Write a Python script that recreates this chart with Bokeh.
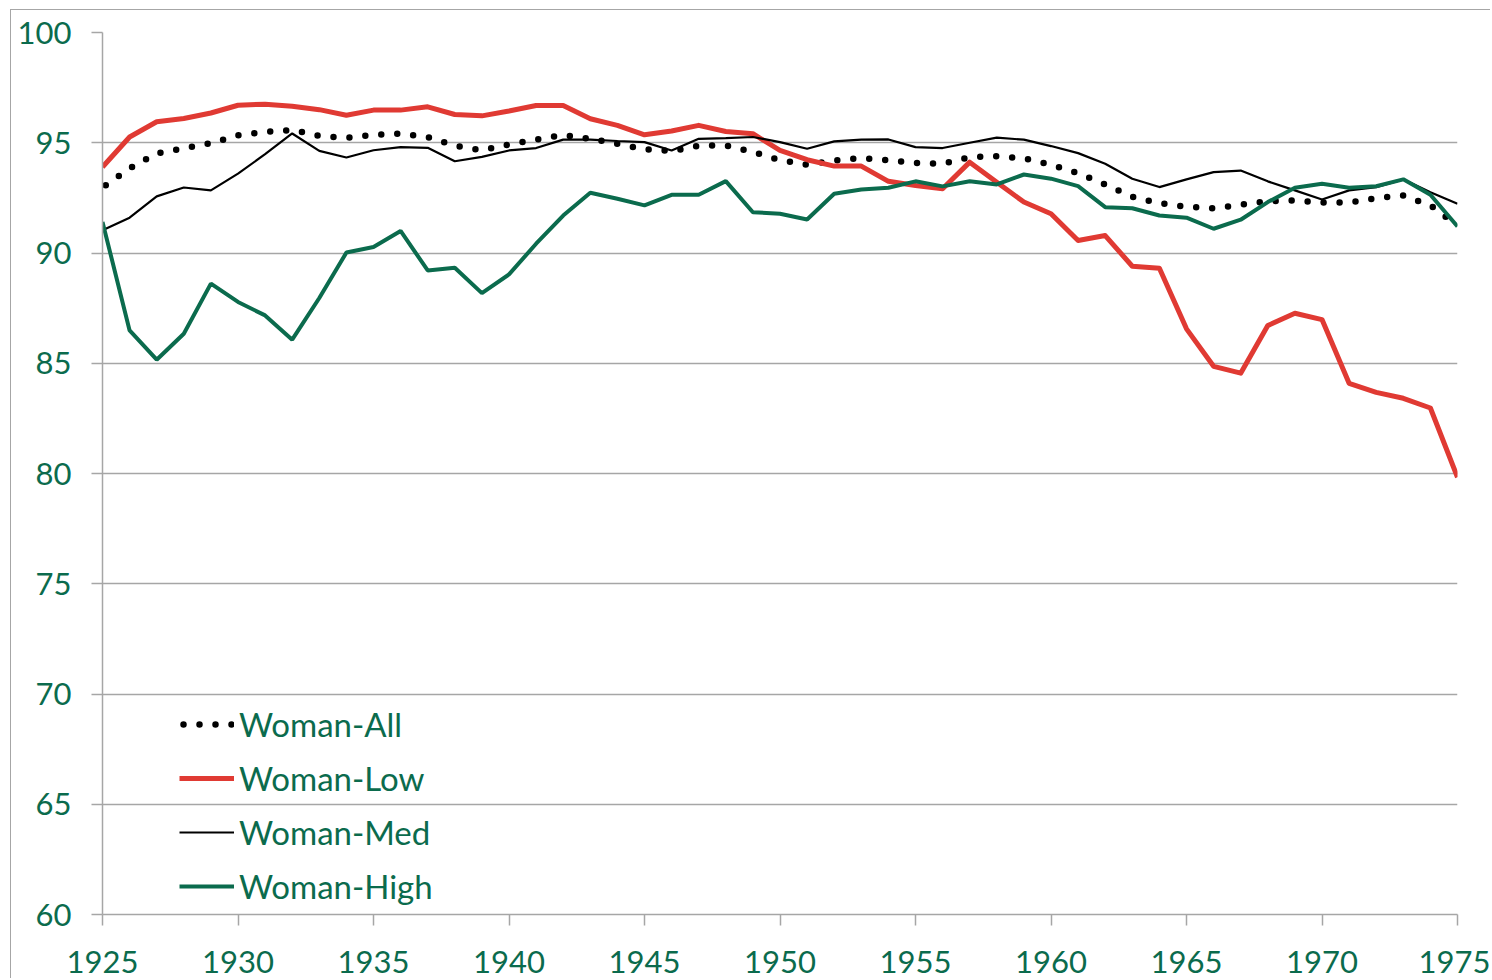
from bokeh.plotting import figure
from bokeh.models import FixedTicker, Legend, LegendItem, ColumnDataSource
from bokeh.embed import file_html
from bokeh.resources import INLINE

years = list(range(1925, 1976))

woman_all = [92.97, 93.84, 94.52, 94.75, 94.98, 95.34, 95.49, 95.58, 95.31, 95.22,
             95.36, 95.42, 95.25, 94.87, 94.66,
             94.92, 95.14, 95.35, 95.18, 94.95, 94.71, 94.62, 94.86, 94.88, 94.58,
             94.21, 94.00, 94.20, 94.30, 94.21, 94.08, 94.05, 94.35,
             94.39, 94.29, 94.00, 93.62, 93.11, 92.55, 92.26, 92.10, 92.02, 92.19,
             92.35, 92.38, 92.29, 92.29, 92.49, 92.61, 92.16, 91.25]
woman_low = [93.90, 95.26, 95.95, 96.10, 96.35, 96.70, 96.75, 96.66, 96.50, 96.25,
             96.48, 96.48, 96.63, 96.28, 96.22,
             96.44, 96.69, 96.69, 96.09, 95.79, 95.36, 95.53, 95.79, 95.51, 95.41,
             94.65, 94.23, 93.94, 93.94, 93.25, 93.06, 92.91, 94.12,
             93.21, 92.31, 91.78, 90.57, 90.79, 89.40, 89.31, 86.56, 84.86, 84.55,
             86.71, 87.27, 86.98, 84.09, 83.68, 83.41, 82.97, 79.83]
woman_med = [91.03, 91.60, 92.57, 92.97, 92.84, 93.60, 94.48, 95.42, 94.63, 94.33,
             94.66, 94.80, 94.77, 94.16, 94.36,
             94.65, 94.76, 95.14, 95.14, 95.08, 95.03, 94.65, 95.18, 95.21, 95.26,
             95.03, 94.73, 95.06, 95.14, 95.15, 94.80, 94.76, 95.00,
             95.23, 95.14, 94.85, 94.53, 94.05, 93.37, 92.99, 93.34, 93.67, 93.74,
             93.25, 92.84, 92.43, 92.84, 92.99, 93.34, 92.76, 92.23]
woman_high = [91.41, 86.49, 85.16, 86.34, 88.61, 87.78, 87.17, 86.07, 87.96, 90.02,
              90.27, 91.00, 89.21, 89.33, 88.18,
              89.03, 90.42, 91.70, 92.73, 92.46, 92.16, 92.64, 92.64, 93.26, 91.85,
              91.78, 91.52, 92.69, 92.88, 92.96, 93.25, 93.02, 93.25,
              93.11, 93.56, 93.37, 93.03, 92.08, 92.03, 91.70, 91.60, 91.10, 91.51,
              92.31, 92.96, 93.14, 92.96, 93.03, 93.34, 92.64, 91.20]

x_ticks = [1925, 1930, 1935, 1940, 1945, 1950, 1955, 1960, 1965, 1970, 1975]
y_ticks = [60, 65, 70, 75, 80, 85, 90, 95, 100]
series_names = ["Woman-All", "Woman-Low", "Woman-Med", "Woman-High"]

GREEN = "#0B6B4D"
RED = "#E03A33"
GRAY = "#A6A6A6"
FONT = "Lato"

src = ColumnDataSource(dict(year=years, all=woman_all, low=woman_low,
                            med=woman_med, high=woman_high))

p = figure(width=1480, height=969, x_range=(1925, 1975), y_range=(60, 100),
           output_backend="svg", toolbar_location=None,
           min_border_left=91, min_border_right=34, min_border_top=22,
           min_border_bottom=65)
p.styles = {"margin-left": "10px", "margin-top": "9px",
            "border-left": "1.5px solid " + GRAY, "border-top": "1.5px solid " + GRAY}
p.outline_line_color = None
p.background_fill_color = "white"

r_all = p.line("year", "all", source=src, line_color="black", line_width=6.5,
               line_dash="0 16", line_dash_offset=-4, line_cap="round")
r_low = p.line("year", "low", source=src, line_color=RED, line_width=5,
               line_join="round")
r_med = p.line("year", "med", source=src, line_color="black", line_width=2.2)
r_high = p.line("year", "high", source=src, line_color=GREEN, line_width=4)

p.xaxis.ticker = FixedTicker(ticks=x_ticks)
p.yaxis.ticker = FixedTicker(ticks=y_ticks)
for ax in (p.xaxis[0], p.yaxis[0]):
    ax.axis_line_color = GRAY
    ax.axis_line_width = 1.5
    ax.major_tick_line_color = GRAY
    ax.major_tick_line_width = 1.5
    ax.major_tick_out = 11
    ax.major_tick_in = 0
    ax.minor_tick_line_color = None
    ax.major_label_text_font = FONT
    ax.major_label_text_font_size = "31px"
    ax.major_label_text_color = GREEN
p.xaxis.major_label_standoff = 25
p.yaxis.major_label_standoff = 20

p.xgrid.grid_line_color = None
p.ygrid.grid_line_color = GRAY
p.ygrid.grid_line_width = 1.5

legend = Legend(items=[
    LegendItem(label=series_names[0], renderers=[r_all]),
    LegendItem(label=series_names[1], renderers=[r_low]),
    LegendItem(label=series_names[2], renderers=[r_med]),
    LegendItem(label=series_names[3], renderers=[r_high]),
], location=(77, 8))
legend.background_fill_alpha = 0
legend.border_line_color = None
legend.padding = 0
legend.margin = 0
legend.glyph_width = 55
legend.glyph_height = 30
legend.label_height = 30
legend.spacing = 14
legend.label_standoff = 5
legend.label_text_font = FONT
legend.label_text_font_size = "33px"
legend.label_text_color = GREEN
p.add_layout(legend, "center")

open("out.html", "w").write(file_html(p, INLINE))
